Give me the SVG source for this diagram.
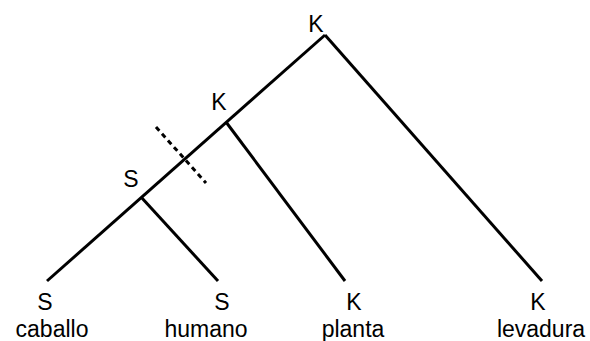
<svg xmlns="http://www.w3.org/2000/svg" width="590" height="341" viewBox="0 0 590 341">
  <style>
    .edge { stroke: #000; stroke-width: 3; fill: none; stroke-linecap: butt; }
    .cut { stroke: #000; stroke-width: 3; fill: none; stroke-dasharray: 5 4; }
    text { font-family: "Liberation Sans", Arial, sans-serif; font-size: 23px; fill: #000; text-anchor: middle; }
  </style>
  <rect width="590" height="341" fill="#fff"/>
  <g id="connectors">
    <line class="edge" x1="325" y1="35" x2="47" y2="281"/>
    <line class="edge" x1="325" y1="35" x2="542" y2="281"/>
    <line class="edge" x1="226" y1="122" x2="345" y2="281"/>
    <line class="edge" x1="141" y1="197" x2="218" y2="281"/>
    <line class="cut" x1="156" y1="127" x2="206" y2="183"/>
  </g>
  <g id="root"><text x="316" y="32">K</text></g>
  <g id="node-k"><text x="219" y="110">K</text></g>
  <g id="node-s"><text x="131" y="187">S</text></g>
  <g id="caballo"><text x="45" y="310">S</text><text x="52" y="337">caballo</text></g>
  <g id="humano"><text x="222" y="310">S</text><text x="206" y="337">humano</text></g>
  <g id="planta"><text x="354" y="310">K</text><text x="353" y="337">planta</text></g>
  <g id="levadura"><text x="538" y="310">K</text><text x="541" y="337">levadura</text></g>
</svg>
